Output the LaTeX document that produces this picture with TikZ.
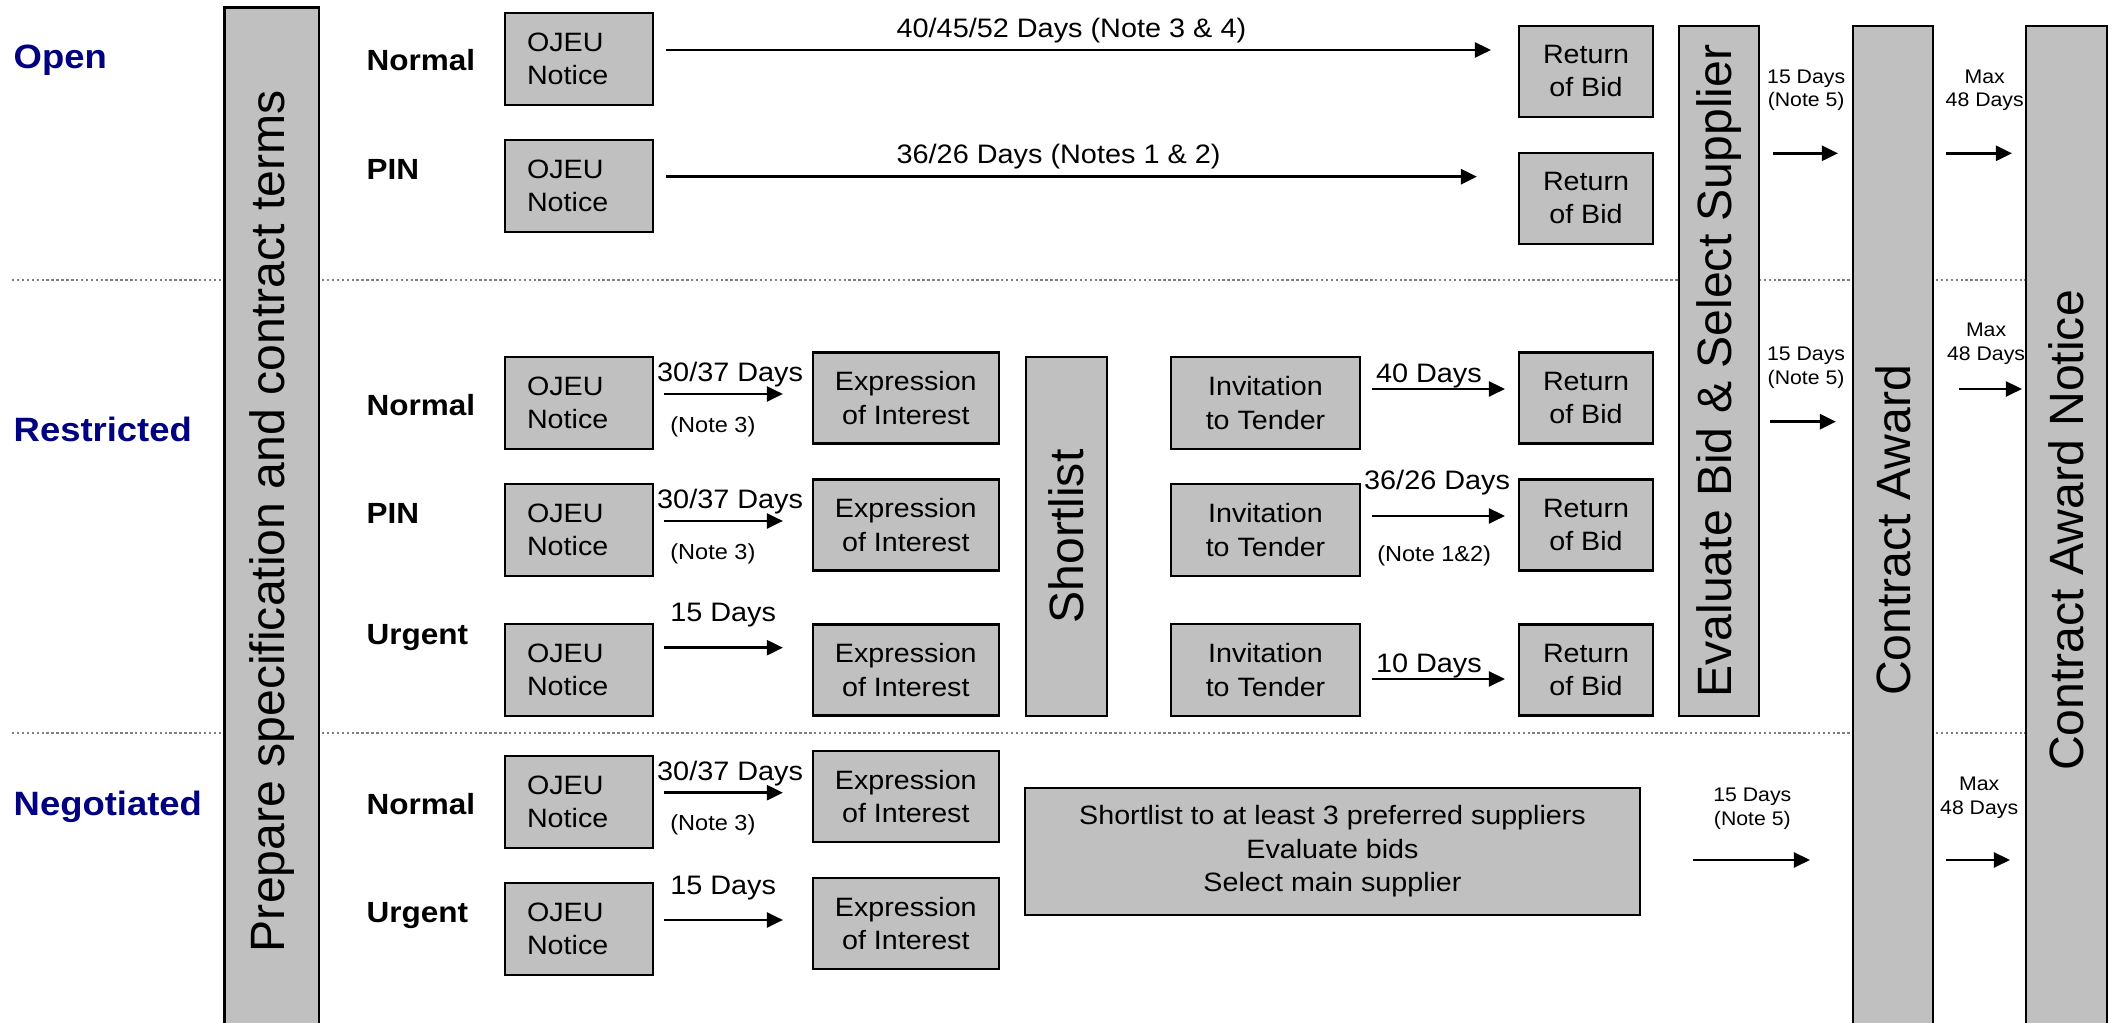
\documentclass[tikz,border=0pt]{standalone}
\usepackage{fontspec}
\setmainfont[FakeStretch=1.08]{Liberation Sans}
\newfontfamily\barfont{Liberation Sans}
\usepackage{xcolor}
\usetikzlibrary{positioning,calc,arrows.meta}
\definecolor{boxgray}{RGB}{192,192,192}
\definecolor{navyblue}{RGB}{0,0,128}

\begin{document}
\begin{tikzpicture}[
    box/.style={draw=black, line width=0.6pt, fill=boxgray, inner sep=0pt,
        minimum height=0.917cm, align=center, font=\fontsize{7.55}{9.45}\selectfont},
    ojeu/.style={box, text width=1.037cm, inner xsep=0.22cm, align=left},
    eoi/.style={box, minimum width=1.863cm, minimum height=0.91cm},
    itt/.style={box, minimum width=1.89cm},
    rob/.style={box, minimum width=1.34cm, minimum height=0.91cm},
    bar/.style={draw=black, line width=0.6pt, fill=boxgray, inner sep=0pt, rotate=90,
        font=\barfont\fontsize{13.7}{16}\selectfont},
    arr/.style={line width=0.7pt, -{Triangle[length=1.6mm,width=1.5mm]}},
    days/.style={font=\fontsize{7.6}{9}\selectfont, inner sep=0pt, anchor=base},
    note/.style={font=\fontsize{6.2}{7}\selectfont, inner sep=0pt, anchor=base},
    lag/.style={font=\fontsize{5.6}{6.8}\selectfont, inner sep=0pt, align=center},
    route/.style={font=\bfseries\fontsize{8.3}{10}\selectfont, inner sep=0pt, anchor=base west},
    proc/.style={font=\bfseries\fontsize{9.6}{11}\selectfont, text=navyblue, inner sep=0pt, anchor=base west},
    sep/.style={draw=gray, line width=0.4pt, dash pattern=on 0.7pt off 0.7pt}
]
\useasboundingbox (0,0) rectangle (21.18,-10.23);

\draw[sep] (0.12,-2.80) -- (20.26,-2.80);
\draw[sep] (0.12,-7.33) -- (20.26,-7.33);

\node[proc] (open) at (0.13,-0.685) {Open};
\node[proc] (restricted) at (0.13,-4.415) {Restricted};
\node[proc] (negotiated) at (0.13,-8.16) {Negotiated};

\node[bar, minimum width=10.275cm, minimum height=0.945cm] (prep) at (2.7175,-5.2125)
    {Prepare specification and contract terms};

\node[route] (on) at (3.66,-0.71) {Normal};
\node[route] (op) at (3.66,-1.80) {PIN};
\node[route] (rn) at (3.66,-4.157) {Normal};
\node[route] (rp) at (3.66,-5.24) {PIN};
\node[route] (ru) at (3.66,-6.45) {Urgent};
\node[route] (nn) at (3.66,-8.143) {Normal};
\node[route] (nu) at (3.66,-9.223) {Urgent};

% open
\node[ojeu] (on-ojeu) at (5.789,-0.592) {OJEU\\Notice};
\node[ojeu] (op-ojeu) at (5.789,-1.858) {OJEU\\Notice};
\node[rob] (on-rob) at (15.86,-0.713) {Return\\of Bid};
\node[rob] (op-rob) at (15.86,-1.983) {Return\\of Bid};

% restricted
\node[ojeu] (rn-ojeu) at (5.789,-4.03) {OJEU\\Notice};
\node[ojeu] (rp-ojeu) at (5.789,-5.30) {OJEU\\Notice};
\node[ojeu] (ru-ojeu) at (5.789,-6.70) {OJEU\\Notice};
\node[eoi] (rn-eoi) at (9.058,-3.98) {Expression\\of Interest};
\node[eoi] (rp-eoi) at (9.058,-5.25) {Expression\\of Interest};
\node[eoi] (ru-eoi) at (9.058,-6.70) {Expression\\of Interest};
\node[bar, minimum width=3.59cm, minimum height=0.81cm] (short) at (10.665,-5.365) {Shortlist};
\node[itt] (rn-itt) at (12.655,-4.03) {Invitation\\to Tender};
\node[itt] (rp-itt) at (12.655,-5.30) {Invitation\\to Tender};
\node[itt] (ru-itt) at (12.655,-6.70) {Invitation\\to Tender};
\node[rob] (rn-rob) at (15.86,-3.98) {Return\\of Bid};
\node[rob] (rp-rob) at (15.86,-5.25) {Return\\of Bid};
\node[rob] (ru-rob) at (15.86,-6.70) {Return\\of Bid};

% negotiated
\node[ojeu] (nn-ojeu) at (5.789,-8.019) {OJEU\\Notice};
\node[ojeu] (nu-ojeu) at (5.789,-9.29) {OJEU\\Notice};
\node[eoi] (nn-eoi) at (9.058,-7.968) {Expression\\of Interest};
\node[eoi] (nu-eoi) at (9.058,-9.235) {Expression\\of Interest};
\node[box, minimum width=6.15cm, minimum height=1.273cm] (neg) at (13.325,-8.5135)
    {Shortlist to at least 3 preferred suppliers\\Evaluate bids\\Select main supplier};

\node[bar, minimum width=6.90cm, minimum height=0.80cm] (eval) at (17.19,-3.71)
    {Evaluate Bid \& Select Supplier};
\node[bar, minimum width=10.09cm, minimum height=0.80cm] (award) at (18.93,-5.305)
    {Contract Award};
\node[bar, minimum width=10.09cm, minimum height=0.81cm] (notice) at (20.665,-5.305)
    {Contract Award Notice};

% durations
\draw[arr, shorten >=2.7mm] (on-ojeu.east) ++(0.125,0.092) coordinate (t) -- (t -| on-rob.west)
    node[days, anchor=base west, pos=.269, yshift=1.27mm] {40/45/52 Days (Note 3 \& 4)};
\draw[arr, shorten >=4.1mm] (op-ojeu.east) ++(0.125,0.091) coordinate (t) -- (t -| op-rob.west)
    node[days, anchor=base west, pos=.269, yshift=1.27mm] {36/26 Days (Notes 1 \& 2)};

\draw[arr, shorten >=2.87mm] (rn-ojeu.east) ++(0.105,0.09) coordinate (t) -- (t -| rn-eoi.west)
    node[days, pos=.447, yshift=1.2mm] {30/37 Days}
    node[note, pos=.33, yshift=-3.87mm] {(Note 3)};
\draw[arr, shorten >=2.87mm] (rp-ojeu.east) ++(0.105,0.09) coordinate (t) -- (t -| rp-eoi.west)
    node[days, pos=.447, yshift=1.2mm] {30/37 Days}
    node[note, pos=.33, yshift=-3.87mm] {(Note 3)};
\draw[arr, shorten >=2.87mm] (ru-ojeu.east) ++(0.105,0.223) coordinate (t) -- (t -| ru-eoi.west)
    node[days, pos=.40, yshift=2.6mm] {15 Days};
\draw[arr, shorten >=2.87mm] (nn-ojeu.east) ++(0.105,0.092) coordinate (t) -- (t -| nn-eoi.west)
    node[days, pos=.447, yshift=1.17mm] {30/37 Days}
    node[note, pos=.33, yshift=-3.8mm] {(Note 3)};
\draw[arr, shorten >=2.87mm] (nu-ojeu.east) ++(0.105,0.09) coordinate (t) -- (t -| nu-eoi.west)
    node[days, pos=.40, yshift=2.5mm] {15 Days};

\draw[arr, shorten >=1.3mm] (rn-itt.east) ++(0.11,0.14) coordinate (t) -- (t -| rn-rob.west)
    node[days, pos=.39, yshift=0.6mm] {40 Days};
\draw[arr, shorten >=1.3mm] (rp-itt.east) ++(0.11,0.14) coordinate (t) -- (t -| rp-rob.west)
    node[days, pos=.446, yshift=2.6mm] {36/26 Days}
    node[note, pos=.426, yshift=-4.57mm] {(Note 1\&2)};
\draw[arr, shorten >=1.3mm] (ru-itt.east) ++(0.11,-0.09) coordinate (t) -- (t -| ru-rob.west)
    node[days, pos=.39, yshift=0.63mm] {10 Days};

\draw[arr, shorten >=1.4mm] (eval.south) ++(0.13,2.177) coordinate (t) -- (t -| award.north)
    node[lag, pos=.42, yshift=6.3mm] {15 Days\\(Note 5)};
\draw[arr, shorten >=1.6mm] (eval.south) ++(0.10,-0.507) coordinate (t) -- (t -| award.north)
    node[lag, pos=.44, yshift=5.37mm] {15 Days\\(Note 5)};
\draw[arr, shorten >=4.2mm] (neg.east) ++(0.52,-0.0865) coordinate (t) -- (t -| award.north)
    node[lag, pos=.373, yshift=5.1mm] {15 Days\\(Note 5)};

\draw[arr, shorten >=1.3mm] (award.south) ++(0.12,3.772) coordinate (t) -- (t -| notice.north)
    node[lag, pos=.49, yshift=6.3mm] {Max\\48 Days};
\draw[arr, shorten >=0.3mm] (award.south) ++(0.25,1.415) coordinate (t) -- (t -| notice.north)
    node[lag, pos=.41, yshift=4.55mm] {Max\\48 Days};
\draw[arr, shorten >=1.5mm] (award.south) ++(0.12,-3.295) coordinate (t) -- (t -| notice.north)
    node[lag, pos=.42, yshift=6.25mm] {Max\\48 Days};
\end{tikzpicture}
\end{document}
